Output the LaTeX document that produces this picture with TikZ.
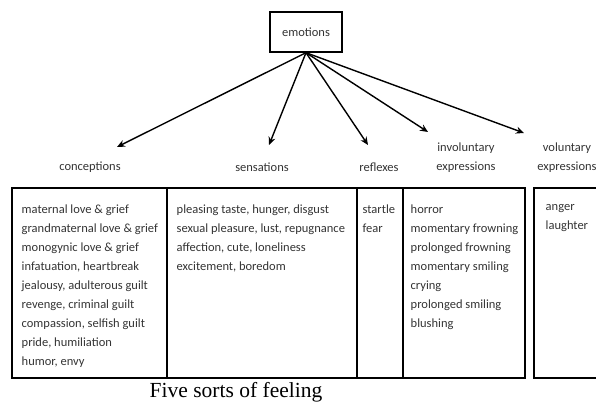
\documentclass[tikz,border=0pt]{standalone}
\usepackage{fontspec}
\setmainfont{Carlito}
\newfontfamily\capfont{Liberation Serif}
\usepackage{tikz}
\usetikzlibrary{arrows.meta,positioning}
\definecolor{feelink}{HTML}{333333}

\begin{document}
\begin{tikzpicture}[x=1pt, y=-1pt, line width=1.4pt, every node/.style={font=\fontsize{12.5}{19}\selectfont, text=feelink, inner sep=0pt}, topbox/.style={draw=black, minimum width=72pt, minimum height=40pt}, kind/.style={align=center}, cell/.style={anchor=north west, align=left}, arr/.style={-{Stealth[length=8pt, width=7pt]}, line width=1.4pt}]
\useasboundingbox (0,0) rectangle (596,403);
\node[topbox] (emo) at (306,32) {emotions};
% the five sorts
\node[kind] (conc) at (90,167) {conceptions};
\node[kind] (sens) at (262,167) {sensations};
\node[kind] (refl) at (379,167) {reflexes};
\node[kind] (invol) at (466,158) {involuntary\\expressions};
\node[kind] (vol) at (567,158) {voluntary\\expressions};
\coordinate (tconc) at (117,147);
\coordinate (tsens) at (269,145);
\coordinate (trefl) at (368,145);
\coordinate (tinvol) at (428,132);
\coordinate (tvol) at (524,133);
\draw[arr] (emo.south) -- (tconc);
\draw[arr] (emo.south) -- (tsens);
\draw[arr] (emo.south) -- (trefl);
\draw[arr] (emo.south) -- (tinvol);
\draw[arr] (emo.south) -- (tvol);
% the table
\draw (12,188) rectangle (525,378);
\draw (167,188) -- (167,378);
\draw (357,188) -- (357,378);
\draw (403,188) -- (403,378);
\draw (534,188) rectangle (640,378);
\node[cell] (cconc) at (21,204) {maternal love \& grief\\grandmaternal love \& grief\\monogynic love \& grief\\infatuation, heartbreak\\jealousy, adulterous guilt\\revenge, criminal guilt\\compassion, selfish guilt\\pride, humiliation\\humor, envy};
\node[cell] (csens) at (176,204) {pleasing taste, hunger, disgust\\sexual pleasure, lust, repugnance\\affection, cute, loneliness\\excitement, boredom};
\node[cell] (crefl) at (362,204) {startle\\fear};
\node[cell] (cinvol) at (410,204) {horror\\momentary frowning\\prolonged frowning\\momentary smiling\\crying\\prolonged smiling\\blushing};
\node[cell] (cvol) at (545,204) {anger\\laughter};
\node[font=\capfont\fontsize{21.5}{24}\selectfont, text=black, anchor=base] (cap) at (236,397.5) {Five sorts of feeling};
\end{tikzpicture}
\end{document}
